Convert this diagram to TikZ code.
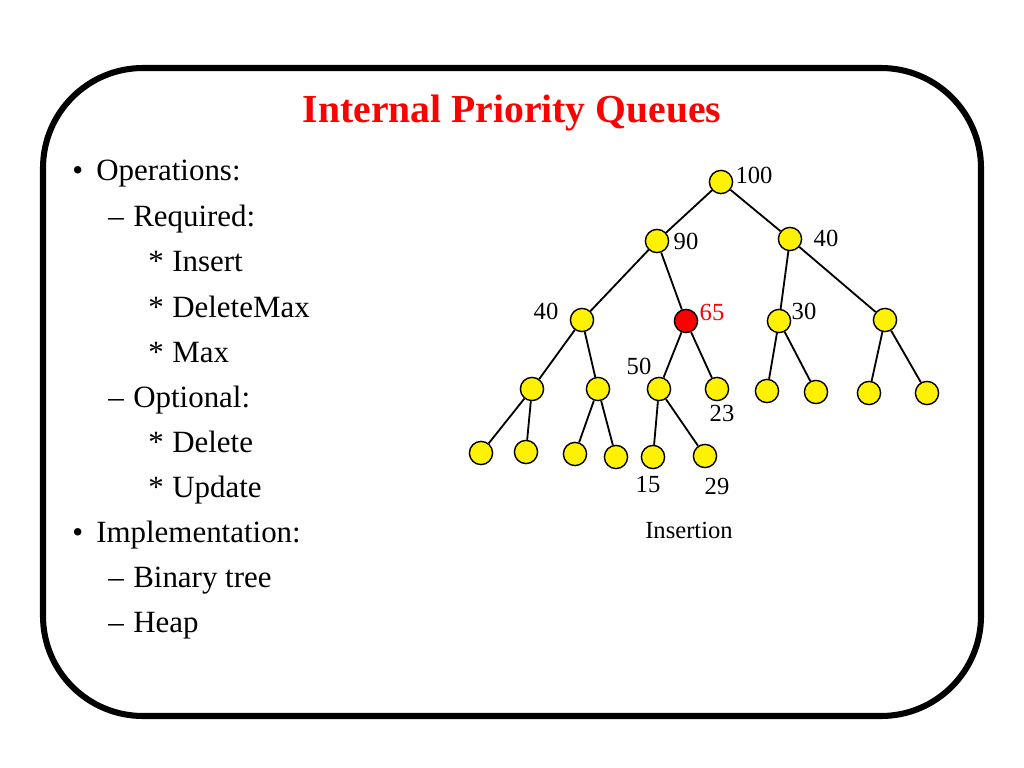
\documentclass[tikz,border=0pt]{standalone}
\usepackage{fontspec}
\setmainfont{Liberation Serif}
\usepackage{tikz}
\newcommand{\bodyfont}{\fontsize{22}{26}\selectfont}
\newcommand{\treefont}{\fontsize{17.5}{20}\selectfont}

\begin{document}
\begin{tikzpicture}[x=0.025cm, y=-0.025cm,
    vertex/.style={draw, circle, fill=yellow, line width=1pt, minimum size=0.58cm, inner sep=0pt},
    newvertex/.style={vertex, fill=red},
    item/.style={anchor=base west, inner sep=0pt, font=\bodyfont},
    key/.style={inner sep=0pt, font=\treefont}]
    \useasboundingbox (0, 0) rectangle (1024, 768);
    \draw[line width=4.3pt, rounded corners=2.5cm] (43, 68) rectangle (981, 716);

    \node (title) at (512, 113) {\fontsize{28.2}{32}\selectfont\bfseries\color{red} Internal Priority Queues};

    % bullet list
    \node[item] (b1) at (72, 181) {\textbullet};
    \node[item] (t1) at (96, 181) {Operations:};
    \node[item] (b2) at (108, 226) {--};
    \node[item] (t2) at (133, 226) {Required:};
    \node[item] (b3) at (148, 271) {*};
    \node[item] (t3) at (172, 271) {Insert};
    \node[item] (b4) at (148, 317) {*};
    \node[item] (t4) at (172, 317) {DeleteMax};
    \node[item] (b5) at (148, 362) {*};
    \node[item] (t5) at (172, 362) {Max};
    \node[item] (b6) at (108, 407) {--};
    \node[item] (t6) at (133, 407) {Optional:};
    \node[item] (b7) at (148, 452) {*};
    \node[item] (t7) at (172, 452) {Delete};
    \node[item] (b8) at (148, 497) {*};
    \node[item] (t8) at (172, 497) {Update};
    \node[item] (b9) at (72, 542) {\textbullet};
    \node[item] (t9) at (96, 542) {Implementation:};
    \node[item] (b10) at (108, 587) {--};
    \node[item] (t10) at (133, 587) {Binary tree};
    \node[item] (b11) at (108, 632) {--};
    \node[item] (t11) at (133, 632) {Heap};

    % heap
    \node (h1) [vertex] at (721, 182) {};
    \node (h2) [vertex] at (657, 241) {};
    \node (h3) [vertex] at (790, 239) {};
    \node (h4) [vertex] at (582, 320) {};
    \node (h5) [newvertex] at (686, 321) {};
    \node (h6) [vertex] at (779, 321) {};
    \node (h7) [vertex] at (885, 320) {};
    \node (h8) [vertex] at (532, 389) {};
    \node (h9) [vertex] at (598, 389) {};
    \node (h10) [vertex] at (659, 389) {};
    \node (h11) [vertex] at (717, 389) {};
    \node (h12) [vertex] at (767, 391) {};
    \node (h13) [vertex] at (816, 392) {};
    \node (h14) [vertex] at (869, 393) {};
    \node (h15) [vertex] at (927, 393) {};
    \node (h16) [vertex] at (481, 453) {};
    \node (h17) [vertex] at (526, 452) {};
    \node (h18) [vertex] at (575, 454) {};
    \node (h19) [vertex] at (616, 457) {};
    \node (h20) [vertex] at (653, 457) {};
    \node (h21) [vertex] at (705, 456) {};

    \foreach \a/\b in {h1/h2, h1/h3, h2/h4, h2/h5, h3/h6, h3/h7,
                       h4/h8, h4/h9, h5/h10, h5/h11, h6/h12, h6/h13, h7/h14, h7/h15,
                       h8/h16, h8/h17, h9/h18, h9/h19, h10/h20, h10/h21}
        \draw[line width=1.3pt] (\a) -- (\b);

    \node[key] (k1) at (754, 175) {100};
    \node[key] (k2) at (686, 241) {90};
    \node[key] (k3) at (826, 238) {40};
    \node[key] (k4) at (546, 311) {40};
    \node[key, text=red] (k5) at (712, 312) {65};
    \node[key] (k6) at (804, 311) {30};
    \node[key] (k10) at (639, 366) {50};
    \node[key] (k11) at (722, 413) {23};
    \node[key] (k20) at (648, 484) {15};
    \node[key] (k21) at (717, 486) {29};
    \node[key] (caption) at (689, 530) {Insertion};
\end{tikzpicture}
\end{document}
